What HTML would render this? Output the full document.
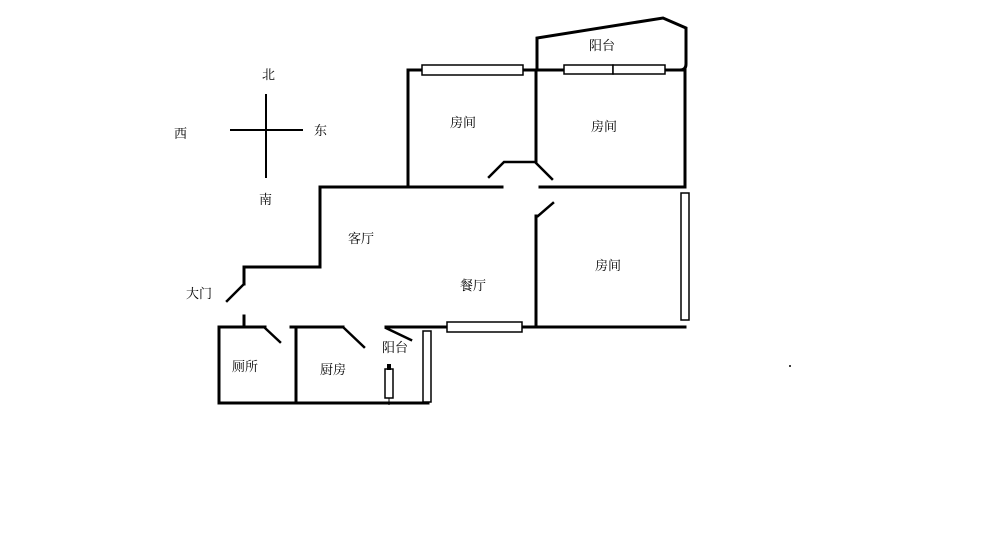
<!DOCTYPE html>
<html><head><meta charset="utf-8"><style>
html,body{margin:0;padding:0;background:#fff;width:1000px;height:553px;overflow:hidden}
text{font-family:"Liberation Serif","Noto Serif CJK SC",serif;font-size:13px;fill:#000}
</style></head><body>
<svg width="1000" height="553" viewBox="0 0 1000 553" xmlns="http://www.w3.org/2000/svg">
<g stroke="#000" stroke-width="3" fill="none" stroke-linecap="square">
<!-- compass -->
<line x1="266" y1="95" x2="266" y2="177" stroke-width="2"/>
<line x1="231" y1="130" x2="302" y2="130" stroke-width="2"/>
<!-- top rooms -->
<polyline points="408,187 408,70 685,70 685,187"/>
<line x1="536" y1="70" x2="536" y2="161"/>
<!-- balcony -->
<path d="M537,68 L537,38 L663,18 L686,28 L686,64 Q686,70 680,70"/>
<!-- middle wall -->
<line x1="320" y1="187" x2="502" y2="187"/>
<line x1="540" y1="187" x2="685" y2="187"/>
<polyline points="489,177 504,162 535,162 552,179" stroke-width="2.5"/>
<line x1="538" y1="216" x2="553" y2="203" stroke-width="2.5"/>
<line x1="536" y1="216" x2="536" y2="327"/>
<!-- left walls -->
<polyline points="320,187 320,267 244,267 244,284"/>
<line x1="227" y1="301" x2="244" y2="284" stroke-width="2.5"/>
<line x1="244" y1="316" x2="244" y2="327"/>
<!-- bottom -->
<line x1="386" y1="327" x2="685" y2="327"/>
<line x1="386" y1="328" x2="411" y2="340" stroke-width="2.5"/>
<polyline points="265,327 219,327 219,403 428,403"/>
<line x1="296" y1="327" x2="296" y2="403"/>
<line x1="291" y1="327" x2="343" y2="327"/>
<line x1="265" y1="328" x2="280" y2="342" stroke-width="2.5"/>
<line x1="344" y1="328" x2="364" y2="347" stroke-width="2.5"/>
</g>
<g stroke="#000" stroke-width="1.5" fill="#fff">
<rect x="422" y="65" width="101" height="10"/>
<rect x="564" y="65" width="49" height="9"/>
<rect x="613" y="65" width="52" height="9"/>
<rect x="681" y="193" width="8" height="127"/>
<rect x="447" y="322" width="75" height="10"/>
<rect x="423" y="331" width="8" height="71"/>
<rect x="385" y="369" width="8" height="29"/>
</g>
<rect x="387" y="364" width="4" height="6" fill="#000"/>
<line x1="389" y1="398" x2="389" y2="405" stroke="#000" stroke-width="1"/>
<circle cx="790" cy="366" r="1" fill="#000"/>
<text x="262" y="79">北</text>
<text x="259" y="204">南</text>
<text x="174" y="138">西</text>
<text x="314" y="135">东</text>
<text x="589" y="50">阳台</text>
<text x="450" y="127">房间</text>
<text x="591" y="131">房间</text>
<text x="595" y="270">房间</text>
<text x="348" y="243">客厅</text>
<text x="460" y="290">餐厅</text>
<text x="186" y="298">大门</text>
<text x="232" y="371">厕所</text>
<text x="320" y="374">厨房</text>
<text x="382" y="352">阳台</text>
</svg>
</body></html>
